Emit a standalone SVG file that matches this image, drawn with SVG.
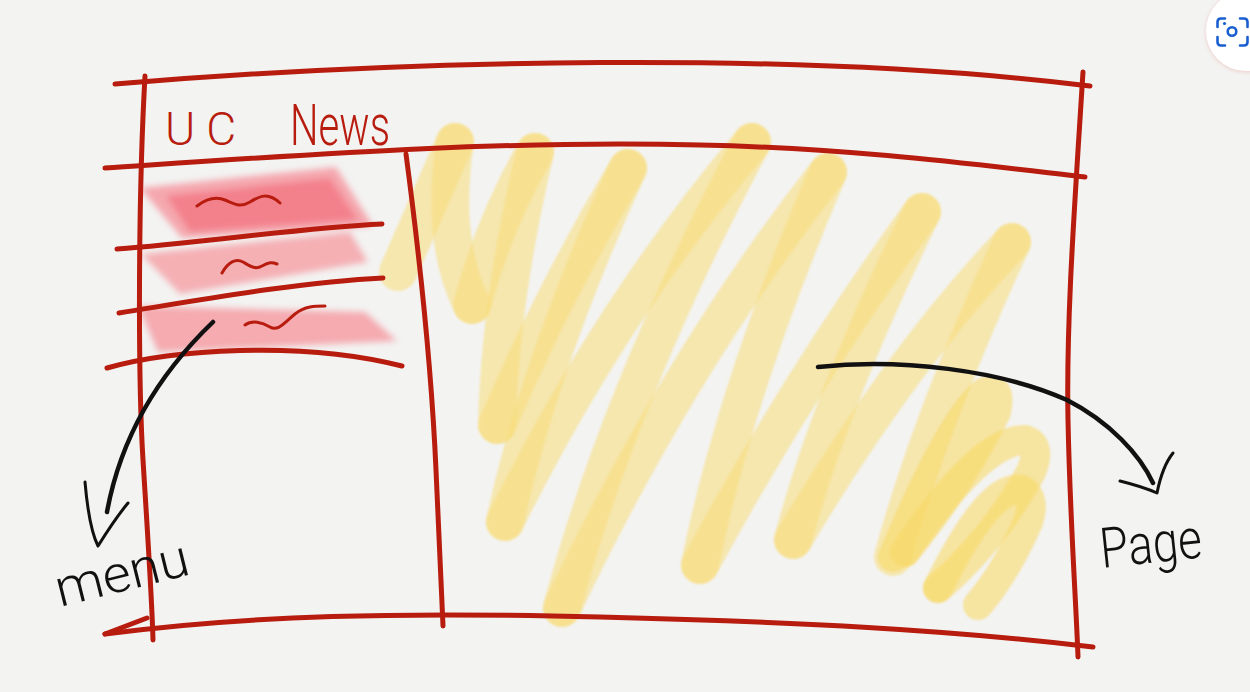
<svg xmlns="http://www.w3.org/2000/svg" width="1250" height="692" viewBox="0 0 1250 692">
  <defs>
    <style>
      .red { fill: none; stroke: #b71c0e; stroke-width: 5; stroke-linecap: round; stroke-linejoin: round; }
      .redthin { fill: none; stroke: #b71c0e; stroke-width: 3; stroke-linecap: round; stroke-linejoin: round; }
      .ink { fill: none; stroke: #111111; stroke-width: 4.5; stroke-linecap: round; stroke-linejoin: round; }
      .inkthin { fill: none; stroke: #111111; stroke-width: 3; stroke-linecap: round; stroke-linejoin: round; }
      .y { fill: none; stroke: #f8dc78; stroke-opacity: 0.55; stroke-width: 38; stroke-linecap: round; stroke-linejoin: round; }
      .ya { fill: none; stroke: #f8d966; stroke-opacity: 0.58; stroke-width: 30; stroke-linecap: round; stroke-linejoin: round; }
      .hand { font-family: Roboto, "Liberation Sans", sans-serif; font-weight: 300; }
    </style>
    <filter id="soft" x="-10%" y="-30%" width="120%" height="160%">
      <feGaussianBlur stdDeviation="3"/>
    </filter>
    <filter id="soft1" x="-10%" y="-10%" width="120%" height="120%">
      <feGaussianBlur stdDeviation="1.2"/>
    </filter>
    <filter id="shadow" x="-30%" y="-30%" width="160%" height="160%">
      <feDropShadow dx="0" dy="1" stdDeviation="2" flood-color="#e8b0a8" flood-opacity="0.6"/>
    </filter>
  </defs>

  <rect width="1250" height="692" fill="#f3f3f2"/>

  <!-- menu highlights -->
  <g id="menu-highlights" filter="url(#soft)">
    <polygon points="140,188 336,167 373,226 182,238" fill="#f5a0a7" opacity="0.9"/>
    <polygon points="166,196 330,178 358,220 190,232" fill="#f27480" opacity="0.75"/>
    <polygon points="141,254 350,232 368,262 180,294" fill="#f5a8ae" opacity="0.9"/>
    <polygon points="138,306 365,312 397,341 158,352" fill="#f5a3a9" opacity="0.9"/>
  </g>

  <!-- page scribble -->
  <g id="page-scribble" filter="url(#soft1)">
    <path class="y" d="M398,272 L455,142"/>
    <path class="y" d="M455,142 Q440,240 472,305"/>
    <path class="y" d="M472,305 Q495,220 535,152"/>
    <path class="y" d="M535,152 Q500,300 497,425"/>
    <path class="y" d="M497,425 Q555,290 628,168"/>
    <path class="y" d="M628,168 Q540,360 505,522"/>
    <path class="y" d="M505,522 Q610,310 752,142"/>
    <path class="y" d="M752,142 Q620,390 562,608"/>
    <path class="y" d="M562,608 Q680,360 828,172"/>
    <path class="y" d="M828,172 Q735,390 700,565"/>
    <path class="y" d="M700,565 Q800,380 922,212"/>
    <path class="y" d="M922,212 Q830,400 793,540"/>
    <path class="y" d="M793,540 Q900,360 1012,242"/>
    <path class="y" d="M1012,242 Q930,420 893,557"/>
    <path class="ya" d="M893,557 Q950,420 985,392 Q1002,385 996,412 Q962,482 905,552"/>
    <path class="ya" d="M905,552 Q980,440 1025,440 Q1042,446 1031,472 Q992,542 938,588"/>
    <path class="ya" d="M938,588 Q990,482 1022,490 Q1036,498 1028,522 Q1006,572 978,605"/>
  </g>

  <!-- frame -->
  <g id="frame">
    <path class="red" d="M115,84 C400,60 800,50 1090,86"/>
    <path class="red" d="M145,76 C138,200 138,380 143,460 S152,600 153,640"/>
    <path class="red" d="M1083,72 C1075,200 1066,320 1068,420 S1076,600 1078,657"/>
    <path class="red" d="M105,634 C250,615 400,612 600,617 S950,630 1093,647"/>
    <path class="red" d="M105,634 L147,618"/>
  </g>

  <!-- header -->
  <g id="header">
    <path class="red" d="M105,168 C300,155 500,140 700,145 C850,148 980,165 1085,177"/>
    <text class="hand" x="165" y="145" font-size="46" fill="#b71c0e" letter-spacing="11">UC <tspan x="290" font-size="58" letter-spacing="0" textLength="100" lengthAdjust="spacingAndGlyphs">News</tspan></text>
  </g>

  <!-- menu -->
  <g id="menu">
    <path class="red" d="M406,154 C420,260 432,380 436,470 S441,580 443,626"/>
    <path class="red" d="M117,249 C200,243 300,228 382,224"/>
    <path class="red" d="M119,313 C200,300 300,282 383,278"/>
    <path class="red" d="M107,368 C170,350 300,340 402,366"/>
    <path class="redthin" d="M197,206 C205,200 215,196 225,200 S240,208 250,202 S268,192 280,203"/>
    <path class="redthin" d="M222,273 C228,262 236,258 243,262 S255,270 262,266 S272,262 277,264"/>
    <path class="redthin" d="M245,325 C252,320 262,322 270,327 S285,322 295,314 S315,306 325,306"/>
  </g>

  <!-- connectors -->
  <g id="connectors">
    <path class="ink" d="M213,322 C165,368 122,430 107,512"/>
    <path class="inkthin" d="M85,482 C87,505 90,530 98,546 C108,530 118,515 128,503"/>
    <path class="ink" d="M818,367 C900,358 1000,370 1067,400 C1110,422 1140,455 1153,483"/>
    <path class="inkthin" d="M1120,481 C1132,484 1146,488 1157,493 C1160,478 1165,463 1173,453"/>
  </g>

  <!-- labels -->
  <g id="label-menu">
    <text class="hand" x="60" y="607" font-size="52" fill="#111111" transform="rotate(-14 60 607)" textLength="136" lengthAdjust="spacingAndGlyphs">menu</text>
  </g>
  <g id="label-page">
    <text class="hand" x="1102" y="568" font-size="56" fill="#111111" transform="rotate(-6 1102 568)" textLength="102" lengthAdjust="spacingAndGlyphs">Page</text>
  </g>

  <!-- lens button -->
  <g id="lens-button">
    <circle cx="1246" cy="31" r="40" fill="#ffffff" filter="url(#shadow)"/>
    <g fill="none" stroke="#1a5fd0" stroke-width="2.6" stroke-linecap="round">
      <path d="M1217.5,27 V22 Q1217.5,18.5 1221,18.5 H1225"/>
      <path d="M1217.5,37 V42 Q1217.5,45.5 1221,45.5 H1225"/>
      <path d="M1240,18.5 H1244 Q1247.5,18.5 1247.5,22 V27"/>
      <path d="M1240,45.5 H1244 Q1247.5,45.5 1247.5,42 V37"/>
      <circle cx="1232" cy="31.5" r="4.3"/>
    </g>
    <circle cx="1224.5" cy="23.5" r="1.6" fill="#1a5fd0"/>
  </g>
</svg>
